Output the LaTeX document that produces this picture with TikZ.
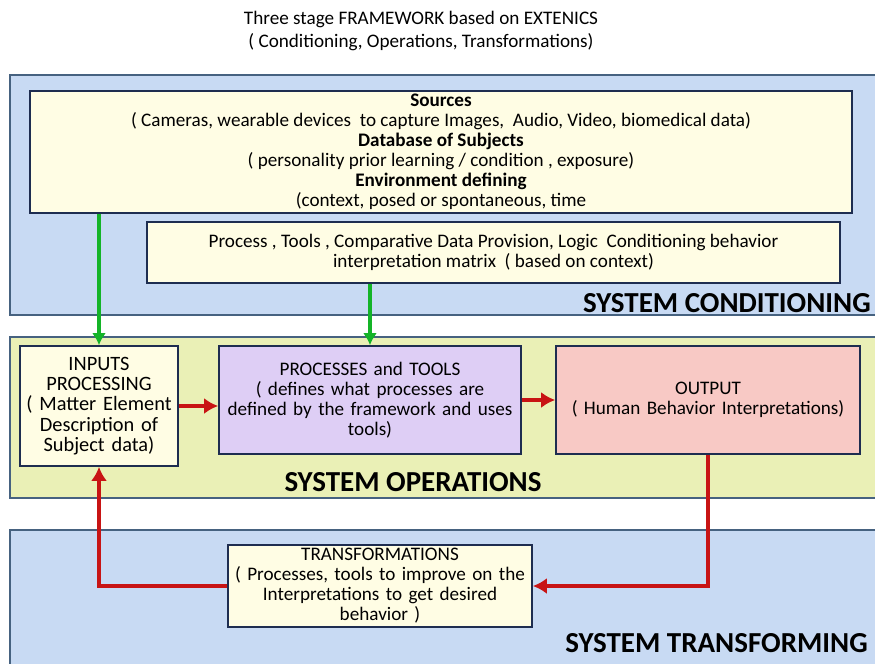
\documentclass[tikz,border=0pt]{standalone}
\usepackage{fontspec}
\setmainfont{Carlito}
\usetikzlibrary{arrows.meta, positioning}
\definecolor{bandblue}{RGB}{200,218,243}
\definecolor{bandgreen}{RGB}{234,240,182}
\definecolor{bandline}{RGB}{70,98,128}
\definecolor{boxline}{RGB}{30,45,80}
\definecolor{boxyellow}{RGB}{255,253,228}
\definecolor{boxlilac}{RGB}{222,206,245}
\definecolor{boxpink}{RGB}{248,201,197}
\definecolor{arrred}{RGB}{200,20,20}
\definecolor{arrgreen}{RGB}{20,180,40}
\tikzset{%
>={Latex[width=3.2mm,length=2.8mm]},
  % Specifications for style of nodes:
            band/.style = {rectangle, draw=bandline, line width=1pt, inner sep=0pt},
            box/.style = {rectangle, draw=boxline, line width=1pt,
                            fill=boxyellow, align=center, inner sep=1pt,
                            font=\fontsize{10.9}{11.4}\selectfont},
            stage/.style = {font=\fontsize{16.5}{18}\selectfont\bfseries, inner sep=0pt},
            feed/.style = {->, draw=arrred, line width=2.2pt},
            cond/.style = {->, draw=arrgreen, line width=1.8pt,
                            >={Latex[width=2.8mm,length=2.4mm]}}
}
\begin{document}
\begin{tikzpicture}[x=0.02cm, y=-0.02cm]
\useasboundingbox (0,0) rectangle (875,663);
% title
\node (title)[align=center, font=\fontsize{10.9}{13}\selectfont] at (421,31)
  {Three stage FRAMEWORK based on EXTENICS\\( Conditioning, Operations, Transformations)};
% stage bands
\node (condband)[band, fill=bandblue, minimum width=17.4cm, minimum height=4.8cm] at (445,195) {};
\node (opband)[band, fill=bandgreen, minimum width=17.4cm, minimum height=3.22cm] at (445,417.5) {};
\node (trband)[band, fill=bandblue, minimum width=17.4cm, minimum height=3cm] at (445,605) {};
% conditioning boxes
\node (src)[box, minimum width=16.44cm, minimum height=2.44cm] at (441,152)
  {\textbf{Sources}\\( Cameras, wearable devices\ \ to capture Images,\ \ Audio, Video, biomedical data)\\
   \textbf{Database of Subjects}\\( personality prior learning / condition , exposure)\\
   \textbf{Environment defining}\\(context, posed or spontaneous, time};
\node (proc)[box, minimum width=13.86cm, minimum height=1.22cm] at (493.5,252.5)
  {Process , Tools , Comparative Data Provision, Logic\ \ Conditioning behavior\\
   interpretation matrix\ \ ( based on context)};
% operations boxes
\node (inp)[box, minimum width=3.16cm, minimum height=2.4cm, text width=3.1cm,
  font=\fontsize{11.6}{11.6}\selectfont] at (99,406)
  {INPUTS\\PROCESSING\\( Matter Element\\Description of\\Subject data)};
\node (ptools)[box, fill=boxlilac, minimum width=6.04cm, minimum height=2.16cm, text width=5.95cm] at (370,400)
  {PROCESSES and TOOLS\\( defines what processes are\\defined by the framework and uses\\tools)};
\node (out)[box, fill=boxpink, minimum width=6.08cm, minimum height=2.16cm, text width=5.95cm] at (708,400)
  {OUTPUT\\( Human Behavior Interpretations)};
% transforming box
\node (trans)[box, minimum width=6.08cm, minimum height=1.64cm, text width=5.95cm] at (380,586)
  {TRANSFORMATIONS\\( Processes, tools to improve on the\\Interpretations to get desired\\behavior )};
% stage labels
\node (condlbl)[stage, anchor=east] at (871,303) {SYSTEM CONDITIONING};
\node (oplbl)[stage] at (413,482) {SYSTEM OPERATIONS};
\node (trlbl)[stage, anchor=east] at (868,643) {SYSTEM TRANSFORMING};
% connectors
\draw[cond] (inp.north |- src.south) -- (inp.north);
\draw[cond] (ptools.north |- proc.south) -- (ptools.north);
\draw[feed] (inp.east) -- (inp.east -| ptools.west);
\draw[feed] (ptools.east) -- (out.west);
\draw[feed] (out.south) |- (trans.east);
\draw[feed] (trans.west) -| (inp.south);
\end{tikzpicture}
\end{document}
